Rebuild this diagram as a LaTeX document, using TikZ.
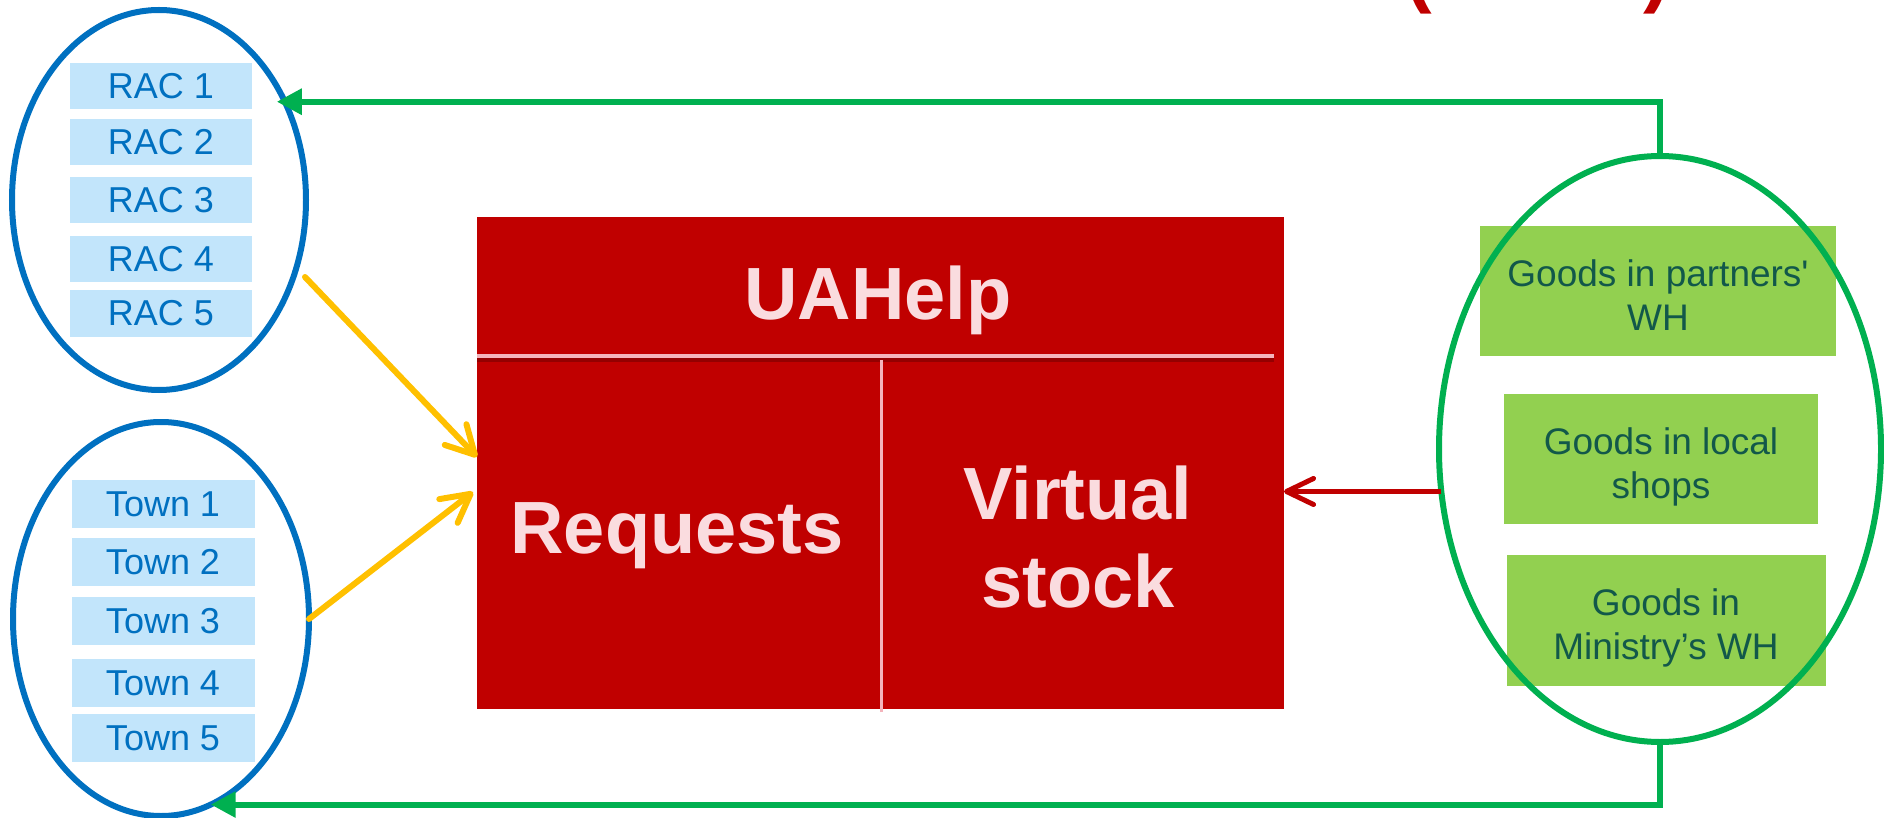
\documentclass[tikz,border=0pt]{standalone}
\usepackage{fontspec}
\setmainfont{Liberation Sans}[Ligatures=TeXOff]
\usetikzlibrary{arrows.meta,shapes.geometric,calc}
\definecolor{blueline}{HTML}{0070C0}
\definecolor{bluebox}{HTML}{C2E5FB}
\definecolor{redbox}{HTML}{C00000}
\definecolor{redshadow}{HTML}{8A0000}
\definecolor{pinkline}{HTML}{F4B4BC}
\definecolor{pinktext}{HTML}{FADCDF}
\definecolor{yel}{HTML}{FFC000}
\definecolor{grn}{HTML}{00B050}
\definecolor{grnbox}{HTML}{92D050}
\definecolor{grntext}{HTML}{12584A}
\newcommand\goodslines[2]{\raisebox{0pt}[0pt][4.5pt]{\begin{tabular}[t]{@{}c@{}}#1\\#2\end{tabular}}}
\tikzset{
  listbox/.style={fill=bluebox, text=blueline, inner sep=0pt, outer sep=0pt,
    minimum width=91pt, minimum height=23pt, font=\fontsize{18}{21.6}\selectfont},
  townbox/.style={listbox, minimum width=91.5pt, minimum height=24pt},
  blueell/.style={ellipse, draw=blueline, line width=3pt, inner sep=0pt, outer sep=0pt},
  grnell/.style={ellipse, draw=grn, line width=3pt, inner sep=0pt, outer sep=0pt},
  goodsbox/.style={fill=grnbox, text=grntext, inner sep=0pt, outer sep=0pt,
    minimum height=65pt, font=\fontsize{18.5}{22}\selectfont},
  bigtext/.style={text=pinktext, inner sep=0pt, anchor=base, font=\fontsize{37}{44}\selectfont\bfseries},
  gline/.style={draw=grn, line width=3pt, -{Triangle[length=12.5pt,width=12.5pt]}},
  yline/.style={draw=yel, line width=3pt, line cap=round, -{Straight Barb[length=14pt,width=15pt,round]}},
  rline/.style={draw=redbox, line width=2.5pt, -{Straight Barb[length=13.5pt,width=13pt,round]}},
}
\begin{document}
\begin{tikzpicture}[x=0.5pt,y=-0.5pt]
\useasboundingbox (0,0) rectangle (1884,818);

% red title parentheses (cut off at top)
\node[text=redbox, inner sep=0pt, anchor=base west, font=\fontsize{40}{48}\selectfont\bfseries] (lp) at (1405,-2) {(};
\node[text=redbox, inner sep=0pt, anchor=base west, font=\fontsize{40}{48}\selectfont\bfseries] (rp) at (1643,-2) {)};

% RAC group
\node[listbox] (r1) at (161,86) {RAC 1};
\node[listbox] (r2) at (161,142.5) {RAC 2};
\node[listbox] (r3) at (161,200) {RAC 3};
\node[listbox] (r4) at (161,259.5) {RAC 4};
\node[listbox] (r5) at (161,313.5) {RAC 5};
\node[blueell, minimum width=147pt, minimum height=190pt] (R) at (159,200) {};

% Town group
\node[townbox] (t1) at (163,504) {Town 1};
\node[townbox] (t2) at (163,562) {Town 2};
\node[townbox] (t3) at (163,621) {Town 3};
\node[townbox] (t4) at (163,683) {Town 4};
\node[townbox] (t5) at (163,738) {Town 5};
\node[blueell, minimum width=148pt, minimum height=197pt] (T) at (161,619) {};

% UAHelp box
\node[fill=redbox, inner sep=0pt, outer sep=0pt, minimum width=403.5pt, minimum height=246pt] (U) at (880.5,463) {};
\draw[redshadow, line width=2pt, opacity=0.8] ($(U.north west)+(0,143)$) -- ($(U.north east)+(-10,143)$);
\draw[pinkline, line width=2pt] ($(U.north west)+(0,139)$) -- ($(U.north east)+(-10,139)$);
\draw[pinkline, line width=1.5pt] ($(U.north)+(0.5,143)$) -- ($(U.south)+(0.5,3)$);
\node[bigtext] (ua) at (878,320) {UAHelp};
\node[bigtext] (rq) at (677,553) {Requests};
\node[bigtext] (vs1) at (1078,519) {Virtual};
\node[bigtext] (vs2) at (1078,607) {stock};

% Goods group
\node[goodsbox, minimum width=178pt] (g1) at (1658,291) {\goodslines{Goods in partners'}{WH}};
\node[goodsbox, minimum width=157pt] (g2) at (1661,459) {\goodslines{Goods in local}{shops}};
\node[goodsbox, minimum width=159.5pt, minimum height=65.5pt] (g3) at (1666,620) {\goodslines{Goods in}{Ministry’s WH}};
\node[grnell, minimum width=221pt, minimum height=293pt] (G) at (1660,449) {};

% connectors
\draw[gline] (G.north) |- ($(R.38)+(-8,0)$);
\draw[gline] (G.south) |- (T.-75);
\coordinate (ys) at (305,277);
\draw[yline] (ys) -- ($(U.west)+(0,-6)$);
\draw[yline] (T.east) -- ($(U.west)+(-4,29)$);
\draw[rline] (G.191) -- (G.191 -| U.east);
\end{tikzpicture}
\end{document}
